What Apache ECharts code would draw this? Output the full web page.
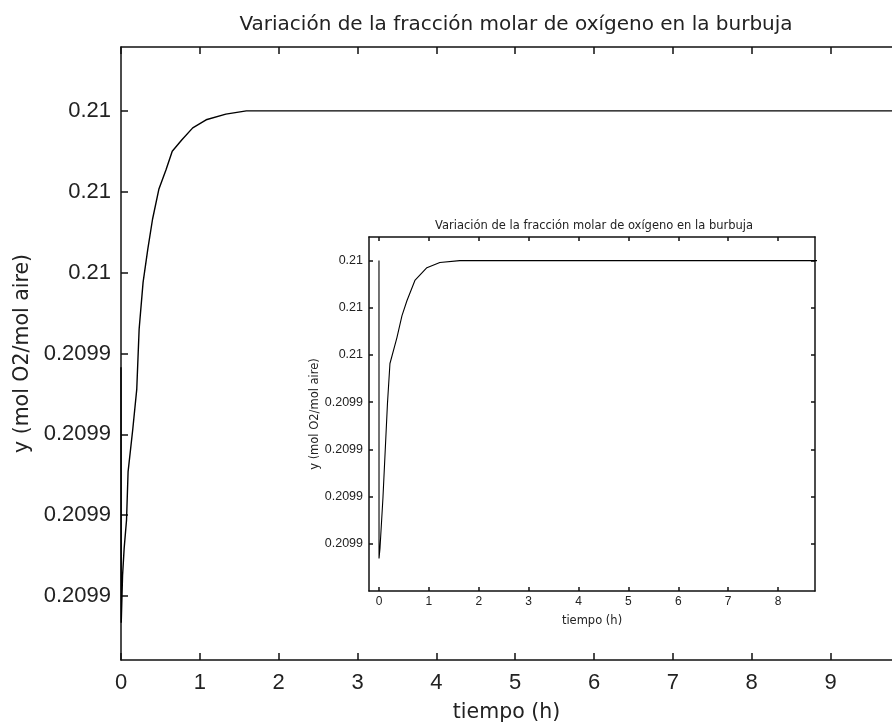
<!DOCTYPE html>
<html>
<head>
<meta charset="utf-8">
<script src="https://cdn.jsdelivr.net/npm/echarts@6/dist/echarts.min.js"></script>
<style>
    html, body { margin: 0; padding: 0; background: #ffffff; }
    #chart { width: 892px; height: 728px; }
</style>
</head>
<body>
<div id="chart"></div>
<script>
// datos
var titulo = 'Variación de la fracción molar de oxígeno en la burbuja';

// grafica principal
var mainTime = [0, 0.003, 0.02, 0.04, 0.07, 0.09, 0.15, 0.2, 0.23, 0.28, 0.34, 0.40, 0.48,
    0.57, 0.65, 0.77, 0.91, 1.08, 1.33, 1.59, 3, 5, 7, 10];
var mainY = [0.2099383, 0.2099067, 0.2099126, 0.2099159, 0.2099194, 0.2099254, 0.2099307,
    0.2099356, 0.2099430, 0.2099488, 0.2099529, 0.2099566, 0.2099603, 0.2099627, 0.2099650,
    0.2099664, 0.2099679, 0.2099689, 0.2099696, 0.2099700, 0.2099700, 0.2099700, 0.2099700, 0.2099700];

// grafica pequeña (insertada)
var insetTime = [0, 0.001, 0.02, 0.08, 0.17, 0.22, 0.36, 0.46, 0.56, 0.72, 0.96, 1.22, 1.62, 4, 7, 10];
var insetY = [0.2099700, 0.2099069, 0.2099090, 0.2099198, 0.2099397, 0.2099482, 0.2099537,
    0.2099583, 0.2099615, 0.2099658, 0.2099685, 0.2099696, 0.2099700, 0.2099700, 0.2099700, 0.2099700];

var xTicksMain = [0, 1, 2, 3, 4, 5, 6, 7, 8, 9];
var xTicksInset = [0, 1, 2, 3, 4, 5, 6, 7, 8];
var yTicks = [0.20991, 0.20992, 0.20993, 0.20994, 0.20995, 0.20996, 0.20997];
var yTickLabels = ['0.2099', '0.2099', '0.2099', '0.2099', '0.21', '0.21', '0.21'];

function pares(xs, ys) {
    var out = [];
    for (var i = 0; i < xs.length; i++) out.push([xs[i], ys[i]]);
    return out;
}
function etiquetaY(v) {
    for (var i = 0; i < yTicks.length; i++) {
        if (Math.abs(yTicks[i] - v) < 1e-9) return yTickLabels[i];
    }
    return '';
}

var fuente = 'Liberation Sans, Arial, sans-serif';
var fuenteAncha = 'DejaVu Sans, sans-serif';
var negro = '#111';

function ejeX(grid, pos, min, max, ticks, conEtiqueta, size, margin, tick) {
    return {
        type: 'value', gridIndex: grid, position: pos, min: min, max: max,
        axisLine: {show: true, onZero: false, lineStyle: {color: negro, width: 1.5}},
        axisTick: {show: true, inside: true, length: tick, customValues: ticks, lineStyle: {color: negro, width: 1.5}},
        axisLabel: {show: conEtiqueta, customValues: ticks, fontSize: size, margin: margin,
            color: '#222', fontFamily: fuente},
        splitLine: {show: false}
    };
}
function ejeY(grid, pos, min, max, conEtiqueta, size, margin, tick) {
    return {
        type: 'value', gridIndex: grid, position: pos, min: min, max: max,
        axisLine: {show: true, onZero: false, lineStyle: {color: negro, width: 1.5}},
        axisTick: {show: true, inside: true, length: tick, customValues: yTicks, lineStyle: {color: negro, width: 1.5}},
        axisLabel: {show: conEtiqueta, customValues: yTicks, fontSize: size, margin: margin,
            color: '#222', fontFamily: fuente, formatter: etiquetaY},
        splitLine: {show: false}
    };
}

var chart = echarts.init(document.getElementById('chart'));

var xMain = ejeX(0, 'bottom', 0, 9.78, xTicksMain, true, 22, 12, 7);
xMain.name = 'tiempo (h)';
xMain.nameLocation = 'middle';
xMain.nameGap = 42;
xMain.nameTextStyle = {fontSize: 20.5, color: '#222', fontFamily: fuenteAncha};

var yMain = ejeY(0, 'left', 0.2099021, 0.2099779, true, 22, 10, 7);
yMain.name = 'y (mol O2/mol aire)';
yMain.nameLocation = 'middle';
yMain.nameGap = 88;
yMain.nameTextStyle = {fontSize: 20.5, color: '#222', fontFamily: fuenteAncha};

var xInset = ejeX(1, 'bottom', -0.2, 8.74, xTicksInset, true, 12, 5, 4);
xInset.name = 'tiempo (h)';
xInset.nameLocation = 'middle';
xInset.nameGap = 24;
xInset.nameTextStyle = {fontSize: 11.5, color: '#222', fontFamily: fuenteAncha};

var yInset = ejeY(1, 'left', 0.20990, 0.209975, true, 12.5, 6, 4);
yInset.name = 'y (mol O2/mol aire)';
yInset.nameLocation = 'middle';
yInset.nameGap = 44;
yInset.nameTextStyle = {fontSize: 11.5, color: '#222', fontFamily: fuenteAncha};

option = {
    backgroundColor: '#ffffff',
    animation: false,
    title: [
        {
            text: titulo, left: 511, top: 10, textAlign: 'center',
            textStyle: {fontSize: 20, fontWeight: 'normal', color: '#222', fontFamily: fuenteAncha}
        },
        {
            text: titulo, left: 589, top: 215, textAlign: 'center',
            textStyle: {fontSize: 11.5, fontWeight: 'normal', color: '#222', fontFamily: fuenteAncha}
        }
    ],
    grid: [
        {left: 121, top: 47, width: 777, height: 615, containLabel: false},
        {left: 369, top: 237, width: 446, height: 354, containLabel: false}
    ],
    xAxis: [
        xMain,
        ejeX(0, 'top', 0, 9.78, xTicksMain, false, 22, 12, 7),
        xInset,
        ejeX(1, 'top', -0.2, 8.74, xTicksInset, false, 12, 5, 4)
    ],
    yAxis: [
        yMain,
        yInset,
        ejeY(1, 'right', 0.20990, 0.209975, false, 12, 6, 4)
    ],
    series: [
        {
            name: 'principal',
            type: 'line',
            xAxisIndex: 0,
            yAxisIndex: 0,
            data: pares(mainTime, mainY),
            showSymbol: false,
            clip: true,
            lineStyle: {color: '#000', width: 1.4}
        },
        {
            name: 'inserto',
            type: 'line',
            xAxisIndex: 2,
            yAxisIndex: 1,
            data: pares(insetTime, insetY),
            showSymbol: false,
            clip: true,
            lineStyle: {color: '#000', width: 1.1}
        }
    ]
};
chart.setOption(option);
</script>
</body>
</html>
